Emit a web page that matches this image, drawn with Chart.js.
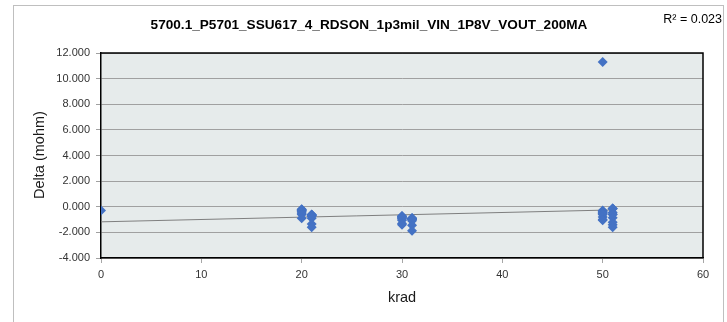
<!DOCTYPE html>
<html><head><meta charset="utf-8">
<script src="https://cdn.jsdelivr.net/npm/chart.js@4.4.1/dist/chart.umd.min.js"></script>
<style>html,body{margin:0;padding:0;background:#fff;}#wrap{width:727px;height:322px;position:relative;}</style>
</head><body><div id="wrap"><canvas id="c" width="727" height="322"></canvas></div>
<script>
const chartTitle = '5700.1_P5701_SSU617_4_RDSON_1p3mil_VIN_1P8V_VOUT_200MA';
const xAxisTitle = 'krad';
const yAxisTitle = 'Delta (mohm)';
const r2Label = 'R\u00B2 = 0.023';

const kradGroups = [0, 20, 21, 30, 31, 50, 51];
const delta_k0  = [-0.3];
const delta_k20 = [-0.2, -0.22, -0.25, -0.28, -0.3, -0.35, -0.4, -0.5, -0.6, -0.9];
const delta_k21 = [-0.6, -0.62, -0.64, -0.66, -0.68, -0.7, -0.75, -0.9, -1.35, -1.6];
const delta_k30 = [-0.72, -0.75, -0.78, -0.8, -0.85, -0.9, -0.95, -1.05, -1.3, -1.4];
const delta_k31 = [-0.88, -0.9, -0.92, -0.94, -0.96, -0.98, -1.0, -1.1, -1.45, -1.87];
const delta_k50 = [11.3, -0.3, -0.35, -0.4, -0.45, -0.5, -0.55, -0.6, -0.8, -1.0, -1.05];
const delta_k51 = [-0.13, -0.14, -0.15, -0.45, -0.58, -0.6, -0.85, -1.2, -1.4, -1.6];

const xTicks = [0, 10, 20, 30, 40, 50, 60];
const yTicks = [-4, -2, 0, 2, 4, 6, 8, 10, 12];

const deltaGroups = [delta_k0, delta_k20, delta_k21, delta_k30, delta_k31, delta_k50, delta_k51];
const points = [];
kradGroups.forEach((k, i) => deltaGroups[i].forEach(v => points.push({x: k, y: v})));

// linear regression (trendline)
const n = points.length;
const mx = points.reduce((s, p) => s + p.x, 0) / n;
const my = points.reduce((s, p) => s + p.y, 0) / n;
let sxy = 0, sxx = 0;
points.forEach(p => { sxy += (p.x - mx) * (p.y - my); sxx += (p.x - mx) * (p.x - mx); });
const slope = sxy / sxx, intercept = my - slope * mx;
const xMin = Math.min(...kradGroups), xMax = Math.max(...kradGroups);
const trend = [{x: xMin, y: intercept + slope * xMin}, {x: xMax, y: intercept + slope * xMax}];

const FONT = "'Liberation Sans', Arial, sans-serif";

const decor = {
  id: 'decor',
  beforeDraw(chart) {
    const {ctx, chartArea: a} = chart;
    ctx.save();
    ctx.fillStyle = '#ffffff';
    ctx.fillRect(0, 0, chart.width, chart.height);
    ctx.strokeStyle = '#bfbfbf';
    ctx.lineWidth = 1;
    ctx.strokeRect(13.5, 5.5, 710, 330);
    ctx.fillStyle = '#e6ebeb';
    ctx.fillRect(a.left, a.top, a.right - a.left, a.bottom - a.top);
    ctx.restore();
  },
  afterDatasetsDraw(chart) {
    const {ctx, chartArea: a} = chart;
    ctx.save();
    ctx.strokeStyle = '#000';
    ctx.lineWidth = 1.5;
    ctx.beginPath();
    ctx.moveTo(a.left, a.top); ctx.lineTo(a.right, a.top); ctx.lineTo(a.right, a.bottom);
    ctx.stroke();
    ctx.fillStyle = '#000';
    ctx.textAlign = 'center'; ctx.textBaseline = 'middle';
    ctx.font = 'bold 13.6px ' + FONT;
    ctx.fillText(chartTitle, 369, 25);
    ctx.font = '12.5px ' + FONT;
    ctx.textAlign = 'right';
    ctx.fillText(r2Label, 722, 20);
    ctx.textAlign = 'center';
    ctx.fillStyle = '#1a1a1a';
    ctx.font = '14.5px ' + FONT;
    ctx.fillText(xAxisTitle, 402, 298);
    ctx.translate(40, 155);
    ctx.rotate(-Math.PI / 2);
    ctx.fillText(yAxisTitle, 0, 0);
    ctx.restore();
  }
};

new Chart(document.getElementById('c'), {
  type: 'scatter',
  data: {
    datasets: [
      {
        label: 'Delta',
        data: points,
        pointStyle: 'rectRot',
        pointRadius: 5,
        backgroundColor: '#4472c4',
        borderColor: '#4472c4',
        borderWidth: 0,
        order: 1
      },
      {
        type: 'line',
        label: 'Trend',
        data: trend,
        borderColor: '#7f7f7f',
        borderWidth: 1,
        pointRadius: 0,
        fill: false,
        order: 2
      }
    ]
  },
  options: {
    responsive: false,
    animation: false,
    devicePixelRatio: 1,
    layout: {padding: {left: 0, top: 53, right: 24, bottom: 0}},
    plugins: {legend: {display: false}, tooltip: {enabled: false}, title: {display: false}},
    scales: {
      x: {
        type: 'linear', min: 0, max: 60,
        afterBuildTicks: s => { s.ticks = xTicks.map(v => ({value: v})); },
        afterFit: s => { s.height = 64; },
        ticks: {font: {family: FONT, size: 11}, color: '#333', padding: 5, maxRotation: 0,
                callback: v => String(v)},
        grid: {drawOnChartArea: false, drawTicks: true, tickLength: 5, color: '#a6a6a6'},
        border: {display: true, color: '#000', width: 1.5}
      },
      y: {
        type: 'linear', min: -4, max: 12,
        afterBuildTicks: s => { s.ticks = yTicks.map(v => ({value: v})); },
        afterFit: s => { s.width = 101; },
        ticks: {font: {family: FONT, size: 11}, color: '#333', padding: 6,
                callback: v => Number(v).toFixed(3)},
        grid: {color: '#a0a0a0', lineWidth: 1, drawTicks: true, tickLength: 5},
        border: {display: true, color: '#000', width: 1.5}
      }
    }
  },
  plugins: [decor]
});
</script></body></html>
